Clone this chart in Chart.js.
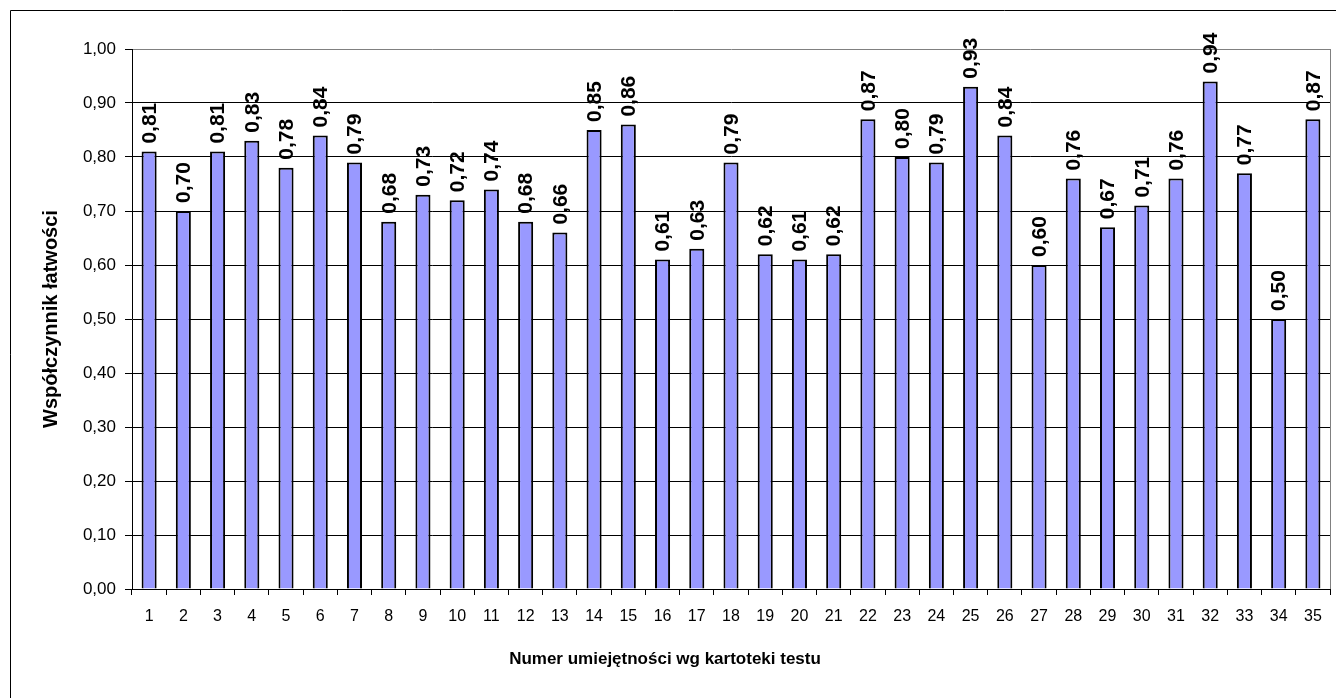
<!DOCTYPE html>
<html>
<head>
<meta charset="utf-8">
<script src="https://cdn.jsdelivr.net/npm/chart.js@4/dist/chart.umd.min.js"></script>
<style>
    body { margin: 0; background: #fff; }
    #wrap { width: 1336px; height: 698px; }
</style>
</head>
<body>
<div id="wrap"><canvas id="barChart" width="1336" height="698"></canvas></div>
<script>
// data
const skillNumbers = ['1','2','3','4','5','6','7','8','9','10','11','12','13','14','15','16','17','18',
    '19','20','21','22','23','24','25','26','27','28','29','30','31','32','33','34','35'];
const easiness = [0.81, 0.70, 0.81, 0.83, 0.78, 0.84, 0.79, 0.68, 0.73, 0.72, 0.74, 0.68, 0.66, 0.85, 0.86,
    0.61, 0.63, 0.79, 0.62, 0.61, 0.62, 0.87, 0.80, 0.79, 0.93, 0.84, 0.60, 0.76, 0.67, 0.71, 0.76,
    0.94, 0.77, 0.50, 0.87];
const yTitle = 'Współczynnik łatwości';
const xTitle = 'Numer umiejętności wg kartoteki testu';

function fmt(v) {
    return v.toFixed(2).replace('.', ',');
}

// outer frame + grey plot border on the right
const framePlugin = {
    id: 'frame',
    beforeDraw(chart) {
        const ctx = chart.ctx;
        ctx.save();
        ctx.fillStyle = '#fff';
        ctx.fillRect(0, 0, chart.width, chart.height);
        ctx.strokeStyle = '#000';
        ctx.lineWidth = 1;
        ctx.beginPath();
        ctx.moveTo(10.5, chart.height);
        ctx.lineTo(10.5, 10.5);
        ctx.lineTo(chart.width, 10.5);
        ctx.stroke();
        ctx.restore();
    },
    afterDraw(chart) {
        const a = chart.chartArea;
        const ctx = chart.ctx;
        ctx.save();
        ctx.strokeStyle = '#808080';
        ctx.lineWidth = 1;
        ctx.beginPath();
        ctx.moveTo(Math.round(a.right) + 0.5, a.top);
        ctx.lineTo(Math.round(a.right) + 0.5, a.bottom);
        ctx.stroke();
        ctx.restore();
    }
};

// rotated value labels above bars
const valueLabels = {
    id: 'valueLabels',
    afterDatasetsDraw(chart) {
        const ctx = chart.ctx;
        const meta = chart.getDatasetMeta(0);
        ctx.save();
        ctx.font = 'bold 21px "Liberation Sans", Arial, sans-serif';
        ctx.fillStyle = '#000';
        ctx.textAlign = 'left';
        ctx.textBaseline = 'middle';
        meta.data.forEach((bar, i) => {
            ctx.save();
            ctx.translate(bar.x + 1, bar.y - 8);
            ctx.rotate(-Math.PI / 2);
            ctx.fillText(fmt(easiness[i]), 0, 0);
            ctx.restore();
        });
        ctx.restore();
    }
};

const barCtx = document.getElementById('barChart').getContext('2d');
new Chart(barCtx, {
    type: 'bar',
    data: {
        labels: skillNumbers,
        datasets: [{
            data: easiness,
            backgroundColor: '#9999FF',
            borderColor: '#000',
            borderWidth: 2,
            categoryPercentage: 1,
            barPercentage: 0.44
        }]
    },
    options: {
        responsive: false,
        animation: false,
        layout: { padding: { left: 0, top: 49, right: 6, bottom: 0 } },
        plugins: {
            legend: { display: false },
            tooltip: { enabled: false },
            title: {
                display: true,
                text: xTitle,
                position: 'bottom',
                color: '#000',
                font: { family: '"Liberation Sans", Arial, sans-serif', size: 17, weight: 'bold' },
                padding: { top: 8, bottom: 28 }
            }
        },
        scales: {
            x: {
                afterFit(scale) { scale.height = 52.6; },
                grid: {
                    drawOnChartArea: false,
                    drawTicks: true,
                    tickLength: 6,
                    color: '#000',
                    offset: true
                },
                border: { color: '#000', width: 1 },
                ticks: {
                    color: '#000',
                    padding: 12,
                    maxRotation: 0,
                    autoSkip: false,
                    font: { family: '"Liberation Sans", Arial, sans-serif', size: 16 }
                }
            },
            y: {
                min: 0,
                max: 1,
                afterFit(scale) { scale.width = 132; },
                grid: {
                    color: c => Math.abs(c.tick.value - 1) < 1e-9 ? '#808080' : '#000',
                    tickColor: '#000',
                    tickLength: 7,
                    lineWidth: 1
                },
                border: { color: '#000', width: 1 },
                ticks: {
                    stepSize: 0.1,
                    color: '#000',
                    padding: 9,
                    font: { family: '"Liberation Sans", Arial, sans-serif', size: 17 },
                    callback: v => fmt(v)
                },
                title: {
                    display: true,
                    text: yTitle,
                    color: '#000',
                    font: { family: '"Liberation Sans", Arial, sans-serif', size: 20, weight: 'bold' },
                    padding: { top: 39, bottom: 0 }
                }
            }
        }
    },
    plugins: [framePlugin, valueLabels]
});
</script>
</body>
</html>
